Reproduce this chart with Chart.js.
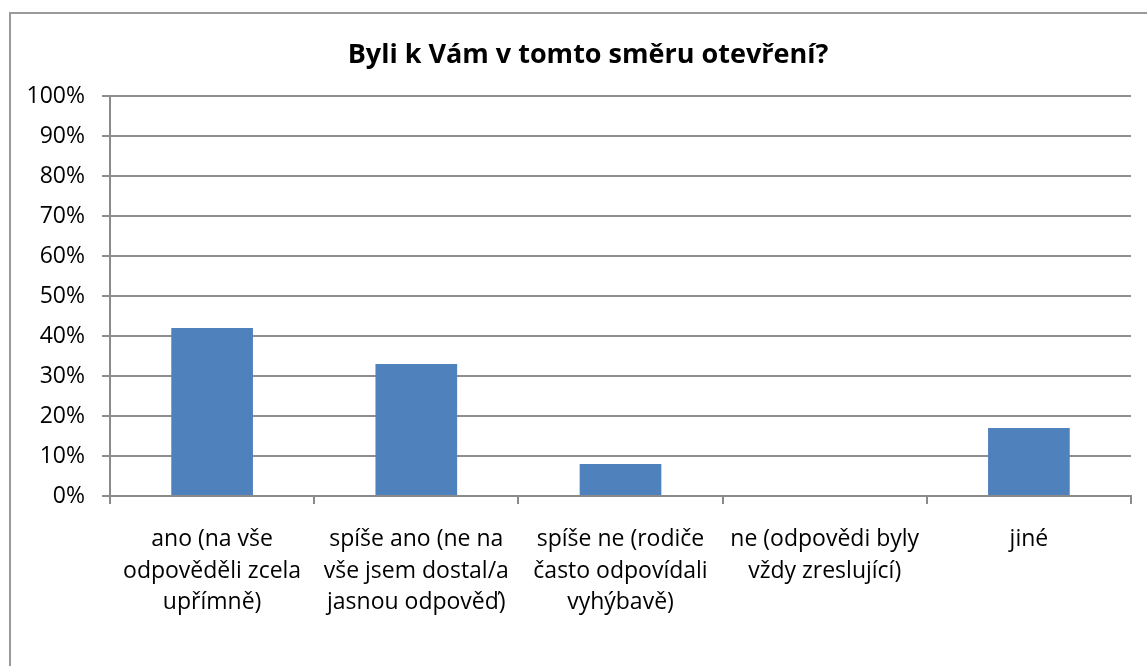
<!DOCTYPE html>
<html>
<head>
<meta charset="utf-8">
<script src="https://cdn.jsdelivr.net/npm/chart.js@4"></script>
<style>
  html, body { margin: 0; padding: 0; background: #fff; overflow: hidden; }
  #frame {
    position: absolute; left: 9px; top: 12px;
    width: 1158px; height: 680px;
    border-left: 2px solid #9a9a9a; border-top: 2px solid #9a9a9a;
  }
  #chart { display: block; }
</style>
</head>
<body>
<div id="frame"><canvas id="chart" width="1156" height="652"></canvas></div>
<script>
const chartTitle = 'Byli k Vám v tomto směru otevření?';
const categories = [
    ['ano (na vše', 'odpověděli zcela', 'upřímně)'],
    ['spíše ano (ne na', 'vše jsem dostal/a', 'jasnou odpověď)'],
    ['spíše ne (rodiče', 'často odpovídali', 'vyhýbavě)'],
    ['ne (odpovědi byly', 'vždy zreslující)'],
    ['jiné']
];
const values = [42, 33, 8, 0, 17];
const yTicks = [0, 10, 20, 30, 40, 50, 60, 70, 80, 90, 100];

const fontFamily = '"Open Sans", "DejaVu Sans", sans-serif';

// the title is centred on the whole frame, not on the area left of the right padding
const centerTitle = {
    id: 'centerTitle',
    afterLayout(chart) {
        if (chart.titleBlock) {
            chart.titleBlock.left = 0;
            chart.titleBlock.right = chart.width - 2;
        }
    }
};

const ctx = document.getElementById('chart').getContext('2d');
new Chart(ctx, {
    type: 'bar',
    data: {
        labels: categories,
        datasets: [{
            data: values,
            backgroundColor: '#4f81bd',
            borderWidth: 0,
            barPercentage: 0.4,
            categoryPercentage: 1
        }]
    },
    plugins: [centerTitle],
    options: {
        responsive: false,
        animation: false,
        layout: { padding: { left: 0, right: 36, top: 0, bottom: 0 } },
        plugins: {
            legend: { display: false },
            tooltip: { enabled: false },
            title: {
                display: true,
                text: chartTitle,
                color: '#000',
                font: { family: fontFamily, size: 27, weight: 'bold', lineHeight: 1.2 },
                padding: { top: 25, bottom: 24.6 }
            }
        },
        scales: {
            x: {
                grid: {
                    display: true,
                    drawOnChartArea: false,
                    drawTicks: true,
                    tickLength: 8,
                    color: '#8a8a8a',
                    lineWidth: 2
                },
                border: { display: true, color: '#8a8a8a', width: 2 },
                ticks: {
                    color: '#000',
                    font: { family: fontFamily, size: 23, lineHeight: 1.37 },
                    padding: 20,
                    maxRotation: 0,
                    minRotation: 0,
                    autoSkip: false
                },
                afterFit: (scale) => { scale.height = 170; }
            },
            y: {
                min: 0,
                max: 100,
                afterBuildTicks: (scale) => {
                    scale.ticks = yTicks.map(v => ({ value: v }));
                },
                grid: {
                    color: '#8e8e8e',
                    lineWidth: 2,
                    drawTicks: true,
                    tickLength: 8
                },
                border: { display: true, color: '#8a8a8a', width: 2 },
                ticks: {
                    color: '#000',
                    font: { family: fontFamily, size: 23 },
                    padding: 17,
                    callback: (v) => v + '%'
                },
                afterFit: (scale) => { scale.width = 99; }
            }
        }
    }
});
</script>
</body>
</html>
